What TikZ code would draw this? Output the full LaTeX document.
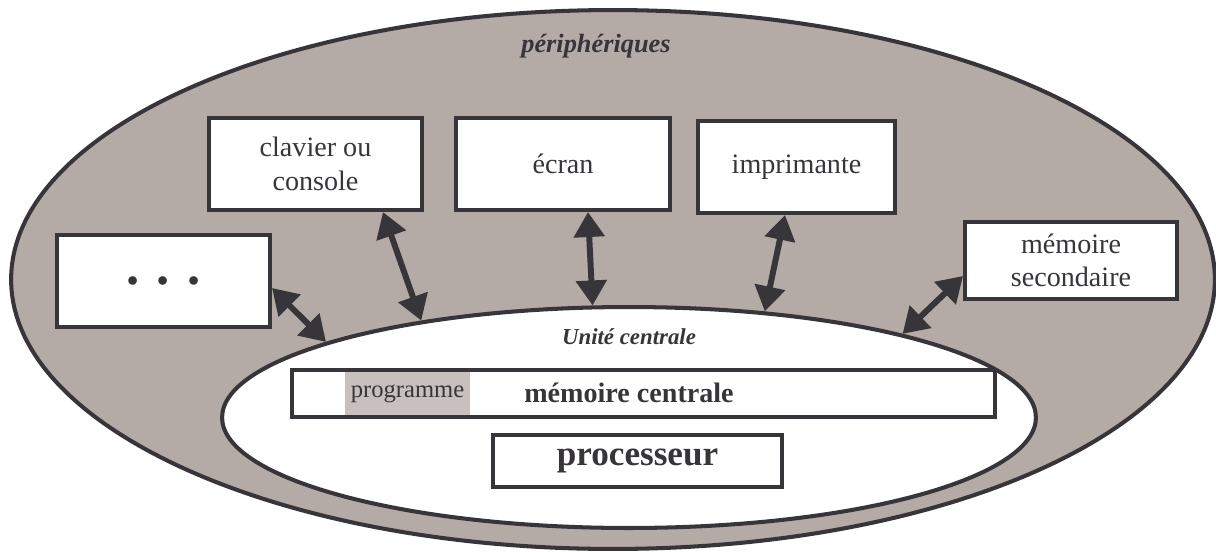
\documentclass[tikz,border=0pt]{standalone}
\usepackage{fontspec}
\setmainfont{Liberation Serif}
\usetikzlibrary{arrows.meta,shapes.geometric}
\definecolor{fond}{RGB}{180,170,166}
\definecolor{trait}{RGB}{55,53,58}
\definecolor{prog}{RGB}{200,192,190}
\tikzset{
  boite/.style={draw=trait,line width=2.3pt,fill=white,inner sep=0pt,text=trait,
    align=center,font=\fontsize{16}{19}\selectfont},
  fleche/.style={{Triangle[length=0.5cm,width=0.6cm]}-{Triangle[length=0.5cm,width=0.6cm]},
    line width=3.4pt,draw=trait},
  titre/.style={text=trait,font=\bfseries\itshape}
}

\begin{document}
\begin{tikzpicture}[x=0.02cm,y=-0.02cm]
\useasboundingbox (0,0) rectangle (1216,551);
\node[ellipse,draw=trait,fill=fond,line width=2.3pt,inner sep=0pt,
  minimum width=24.08cm,minimum height=10.78cm] (peri) at (613,279.5) {};
\node[ellipse,draw=trait,fill=white,line width=2.3pt,inner sep=0pt,
  minimum width=16.28cm,minimum height=4.42cm] (uc) at (629,417.5) {};
\node[titre,font=\fontsize{15}{18}\selectfont\bfseries\itshape] (lperi) at (596,46) {périphériques};
\node[titre,font=\fontsize{13}{16}\selectfont\bfseries\itshape] (luc) at (629,337) {Unité centrale};

\node[boite,minimum width=4.26cm,minimum height=1.84cm] (dots) at (163.5,281)
  {\fontsize{30}{30}\selectfont\bfseries . . .};
\node[boite,minimum width=4.26cm,minimum height=1.84cm] (clav) at (315.5,164) {clavier ou\\console};
\node[boite,minimum width=4.28cm,minimum height=1.84cm] (ecran) at (563,164) {écran};
\node[boite,minimum width=3.94cm,minimum height=1.84cm] (impr) at (796.5,167) {imprimante};
\node[boite,minimum width=4.24cm,minimum height=1.54cm] (memsec) at (1071,260.5) {mémoire\\secondaire};

\node[boite,line width=2pt,minimum width=14.06cm,minimum height=0.94cm] (memc) at (643.5,393.5) {};
\node[fill=prog,inner sep=0pt,minimum width=2.5cm,minimum height=0.86cm,text=trait,
  font=\fontsize{14}{16}\selectfont] (prog) at (407.5,393.5) {programme};
\node[text=trait,font=\fontsize{16}{19}\selectfont\bfseries] (lmemc) at (629,393) {mémoire centrale};
\node[boite,line width=2pt,minimum width=5.78cm,minimum height=1.04cm,
  font=\fontsize{20}{24}\selectfont\bfseries] (proc) at (637.5,461) {processeur};

\draw[fleche] ([yshift=-0.14cm]dots.east) -- (uc.166);
\draw[fleche] ([xshift=1.35cm]clav.south) -- (uc.155.6);
\draw[fleche] ([xshift=0.5cm]ecran.south) -- (uc.108.5);
\draw[fleche] ([xshift=-0.23cm]impr.south) -- (uc.38.2);
\draw[fleche] ([yshift=-0.31cm]memsec.west) -- (uc.17.3);
\end{tikzpicture}
\end{document}
